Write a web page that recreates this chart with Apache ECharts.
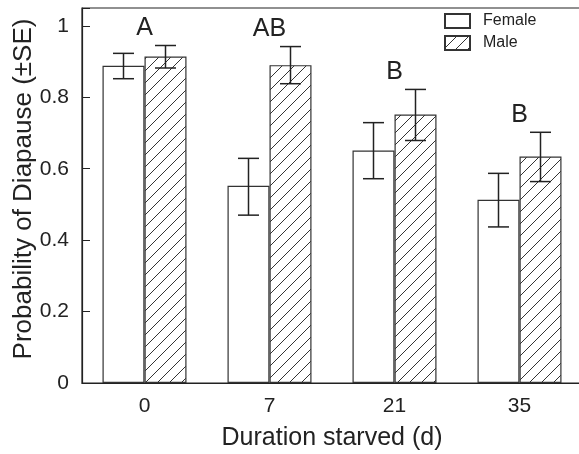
<!DOCTYPE html>
<html>
<head>
<meta charset="utf-8">
<script src="https://cdn.jsdelivr.net/npm/echarts@6/dist/echarts.min.js"></script>
<style>
  html, body { margin: 0; padding: 0; background: #fff; }
  #chart { width: 579px; height: 454px; }
</style>
</head>
<body>
<div id="chart"></div>
<script>
var categories = ['0', '7', '21', '35'];
var femaleMean = [0.888, 0.552, 0.651, 0.513];
var femaleLow  = [0.852, 0.470, 0.572, 0.437];
var femaleHigh = [0.923, 0.629, 0.729, 0.587];
var maleMean   = [0.914, 0.890, 0.752, 0.634];
var maleLow    = [0.882, 0.838, 0.679, 0.564];
var maleHigh   = [0.945, 0.942, 0.822, 0.702];
var groupLetters = ['A', 'AB', 'B', 'B'];
var yTicks = [0, 0.2, 0.4, 0.6, 0.8, 1];

var font = 'Liberation Sans, Arial, sans-serif';
var ink = '#222';
var barW = 42;

// diagonal hatch for the male bars
function hatch() {
    var c = document.createElement('canvas');
    c.width = 12; c.height = 12;
    var g = c.getContext('2d');
    g.fillStyle = '#fff';
    g.fillRect(0, 0, 12, 12);
    g.strokeStyle = '#333';
    g.lineWidth = 1;
    g.beginPath();
    g.moveTo(0, 12); g.lineTo(12, 0);
    g.moveTo(-2, 2); g.lineTo(2, -2);
    g.moveTo(10, 14); g.lineTo(14, 10);
    g.stroke();
    return c;
}

function errBars(low, high) {
    return low.map(function (v, i) { return [i, v, high[i]]; });
}

function errRender(offset) {
    return function (params, api) {
        var x = api.coord([api.value(0), 0])[0] + offset;
        var y1 = api.coord([api.value(0), api.value(1)])[1];
        var y2 = api.coord([api.value(0), api.value(2)])[1];
        var s = { stroke: ink, lineWidth: 1.5 };
        return {
            type: 'group',
            children: [
                { type: 'line', shape: { x1: x, y1: y1, x2: x, y2: y2 }, style: s },
                { type: 'line', shape: { x1: x - 10.5, y1: y1, x2: x + 10.5, y2: y1 }, style: s },
                { type: 'line', shape: { x1: x - 10.5, y1: y2, x2: x + 10.5, y2: y2 }, style: s }
            ]
        };
    };
}

var letterData = groupLetters.map(function (t, i) {
    return [i, Math.max(femaleHigh[i], maleHigh[i])];
});

var chart = echarts.init(document.getElementById('chart'));

var option = {
    animation: false,
    textStyle: { fontFamily: font, color: ink },
    grid: {
        left: 82, right: -3, top: 8, bottom: 71,
        outerBoundsMode: 'none',
        show: true, borderColor: ink, borderWidth: 1.2
    },
    legend: {
        orient: 'vertical',
        left: 444, top: 13, padding: 0,
        icon: 'rect',
        itemWidth: 25, itemHeight: 14, itemGap: 6,
        data: ['Female', 'Male'],
        textStyle: { fontSize: 16, color: ink, padding: [0, 0, 0, 8] }
    },
    xAxis: {
        type: 'category',
        data: categories,
        name: 'Duration starved (d)',
        nameLocation: 'middle',
        nameGap: 43,
        nameMoveOverlap: false,
        nameTextStyle: { fontSize: 25, color: ink },
        axisLine: { lineStyle: { color: ink, width: 1.2 } },
        axisTick: { show: false },
        axisLabel: { fontSize: 21, color: ink, margin: 13 }
    },
    yAxis: {
        type: 'value',
        min: 0, max: 1.05, interval: 0.2,
        name: 'Probability of Diapause (±SE)',
        nameLocation: 'middle',
        nameGap: 45,
        nameMoveOverlap: false,
        nameTextStyle: { fontSize: 26, color: ink, padding: [0, 0, 0, 13] },
        splitLine: { show: false },
        axisLine: { show: true, lineStyle: { color: ink, width: 1.2 } },
        axisTick: { show: true, inside: true, length: 8, lineStyle: { color: ink } },
        axisLabel: {
            fontSize: 21, color: ink, margin: 13,
            formatter: function (v) { return yTicks.indexOf(+v.toFixed(2)) >= 0 ? String(+v.toFixed(2)) : ''; }
        }
    },
    series: [
        {
            name: 'Female', type: 'bar', data: femaleMean,
            barWidth: barW, barGap: '0%',
            itemStyle: { color: '#fff', borderColor: '#333', borderWidth: 1.2 }
        },
        {
            name: 'Male', type: 'bar', data: maleMean,
            barWidth: barW, barGap: '0%',
            itemStyle: { color: { image: hatch(), repeat: 'repeat' }, borderColor: '#333', borderWidth: 1.2 }
        },
        {
            type: 'custom', data: errBars(femaleLow, femaleHigh),
            renderItem: errRender(-barW / 2), z: 5, silent: true,
            encode: { x: 0, y: [1, 2] }
        },
        {
            type: 'custom', data: errBars(maleLow, maleHigh),
            renderItem: errRender(barW / 2), z: 5, silent: true,
            encode: { x: 0, y: [1, 2] }
        },
        {
            type: 'custom', data: letterData, silent: true,
            encode: { x: 0, y: 1 },
            renderItem: function (params, api) {
                var p = api.coord([api.value(0), api.value(1)]);
                return {
                    type: 'text',
                    style: {
                        text: groupLetters[params.dataIndex],
                        x: p[0], y: p[1] - 17,
                        align: 'center', verticalAlign: 'middle',
                        fontSize: 25, fontFamily: font, fill: ink
                    }
                };
            }
        }
    ]
};

chart.setOption(option);
</script>
</body>
</html>
